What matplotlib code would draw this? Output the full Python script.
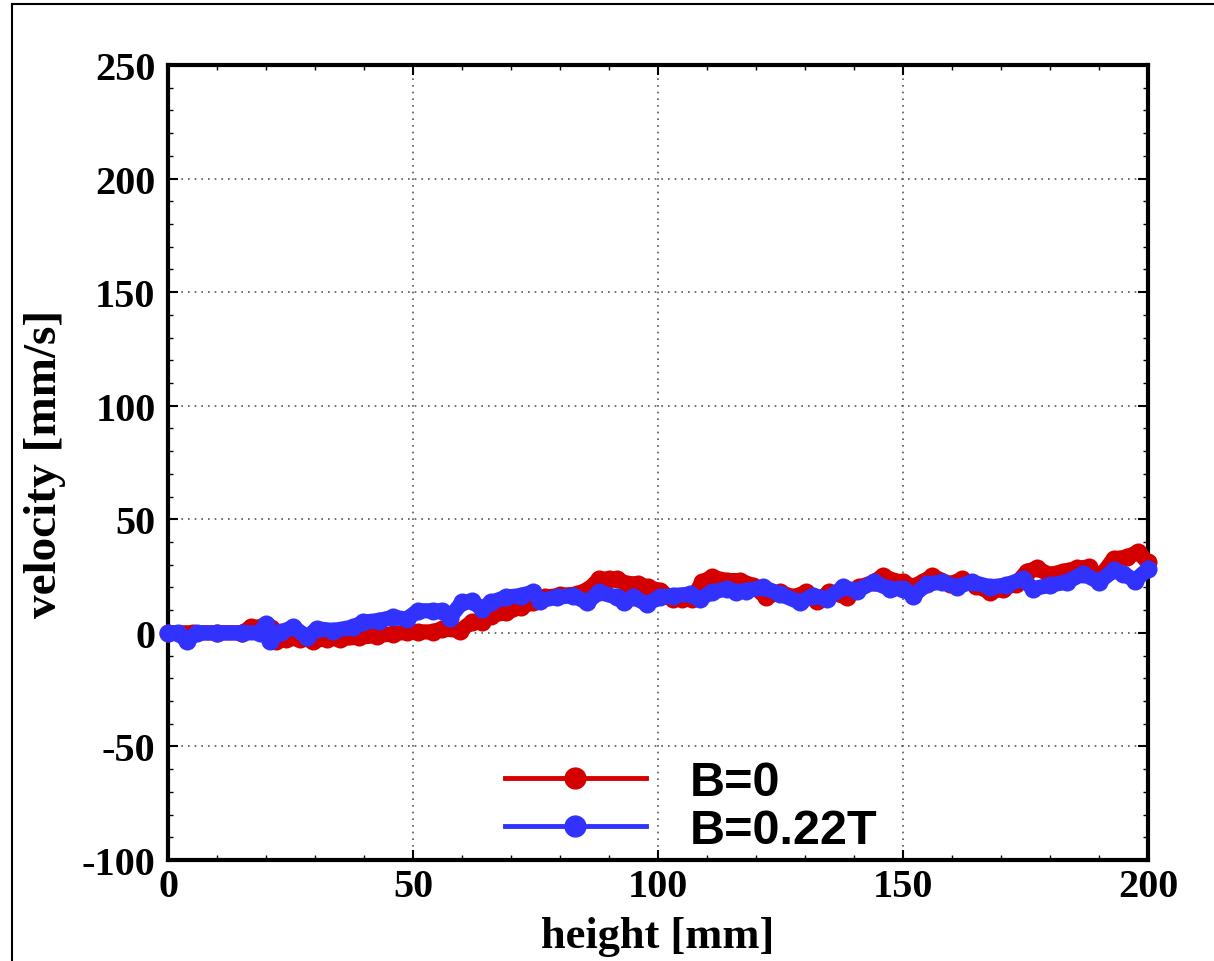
import numpy as np
import matplotlib
matplotlib.use('Agg')
import matplotlib.pyplot as plt
from matplotlib.lines import Line2D
from matplotlib.ticker import MultipleLocator, AutoMinorLocator

plt.rcParams['axes.unicode_minus'] = False

# height [mm] / velocity [mm/s]
x_b0 = [0, 5, 10, 15, 17, 19, 21, 22, 24, 27,
        29.6, 32.4, 35, 39, 42.6, 46, 48.7, 51, 54, 56,
        59.6, 62, 64, 66, 69, 72, 74.5, 77, 80, 83.4,
        86, 88, 90, 91.6, 93.6, 96, 98, 100.4, 103, 105,
        107, 109, 111, 114, 116.7, 119.4, 122, 125, 127.6, 130.3,
        132.4, 135, 138.5, 141, 144, 146, 148, 150, 152, 154,
        156, 159.6, 162, 165, 167.8, 170.4, 173, 175.3, 177.3, 180,
        182.7, 185.5, 188, 190, 193, 195.7, 198, 200]
v_b0 = [0, 0, 0, 0, 2.5, 2.5, 2, -3.4, -2.6, -2.6,
        -3.4, -2.6, -2.6, -1.9, -1.2, -0.4, 0.3, 0.4, 0.4, 1.8,
        1, 4.7, 4.7, 7.6, 9, 11.3, 13.5, 15.7, 16.5, 17,
        19.4, 23.8, 23.5, 23.8, 21.6, 21.6, 20, 18.6, 15, 15,
        15, 22.3, 24.5, 23, 23, 20.8, 15.7, 17.9, 15.7, 17.9,
        14.2, 17.9, 15.7, 20, 22.3, 25.2, 23, 22.4, 20.4, 22.4,
        25, 21.5, 23.5, 20.6, 17.9, 19.4, 21.5, 27, 28.4, 25.6,
        27, 28.4, 29, 24, 32.6, 33.3, 35.6, 31]

x_b22 = [0, 2, 3.8, 6, 10, 15, 18.8, 20, 20.8, 23,
         25.6, 28.4, 30.4, 33.7, 37.8, 39.8, 43, 46, 48.7, 51,
         54, 56, 57.5, 60, 62, 64, 66, 69, 72, 74.5,
         76, 79.4, 82.7, 85.5, 88, 91.6, 93, 95, 97.7, 100.4,
         103, 106.5, 108.6, 111, 114, 116, 118, 121.5, 125, 129,
         131.6, 134.5, 137.8, 140.6, 144, 147.3, 150, 152, 155, 158,
         161, 164, 167.8, 171, 174.5, 176.5, 180, 183.5, 186.7, 190,
         193, 195, 197.3, 200]
v_b22 = [0, 0, -3.4, 0, 0, 0, 0, 4, -3.4, 0.3,
         2.5, -1.9, 1.8, 1, 2.5, 4.7, 5.4, 6.9, 6, 9.7,
         9.7, 9.7, 6.7, 13.4, 14, 10.6, 13.4, 15.7, 16.4, 17.9,
         14.2, 15.7, 16.4, 13.4, 17.9, 15.7, 13.4, 15.7, 12.7, 15.7,
         16.4, 17, 15, 17.9, 19.4, 17.9, 18.6, 20, 17, 13.4,
         16.4, 15, 20, 18.6, 22.3, 19.4, 19.4, 16.4, 21.5, 22.4,
         20.2, 22.4, 20.2, 21, 23.8, 19.4, 21, 22.4, 26.1, 22.4,
         27.5, 26.1, 23, 28]

labels = ['B=0', 'B=0.22T']
colors = ['#d40000', '#3232ff']

serif = 'Liberation Serif'

fig = plt.figure(figsize=(12.14, 9.62), dpi=100)
ax = fig.add_axes([0.1384, 0.105, 0.8072, 0.8264])

for xs, vs, c in [(x_b0, v_b0, colors[0]), (x_b22, v_b22, colors[1])]:
    ax.plot(xs, vs, color=c, lw=11, marker='o', ms=13, mew=0,
            solid_capstyle='round', solid_joinstyle='round', clip_on=False, zorder=3)

ax.set_xlim(0, 200)
ax.set_ylim(-100, 250)
ax.xaxis.set_major_locator(MultipleLocator(50))
ax.yaxis.set_major_locator(MultipleLocator(50))
ax.xaxis.set_minor_locator(AutoMinorLocator(5))
ax.yaxis.set_minor_locator(AutoMinorLocator(5))
ax.grid(True, which='major', color='#555555', linestyle=(0, (1, 3)), linewidth=1.2)
ax.tick_params(which='both', direction='in', top=True, right=True)
ax.tick_params(which='major', length=7, width=1.5, labelsize=29, pad=6)
ax.tick_params(axis='y', which='major', pad=9)
ax.tick_params(which='minor', length=3.5, width=1)
for sp in ax.spines.values():
    sp.set_linewidth(3)
for lab in ax.get_xticklabels() + ax.get_yticklabels():
    lab.set_fontfamily(serif)
    lab.set_fontweight('bold')

ax.set_xlabel('height [mm]', fontsize=32, fontfamily=serif, fontweight='bold', labelpad=8)
ax.set_ylabel('velocity [mm/s]', fontsize=34, fontfamily=serif, fontweight='bold', labelpad=11)

handles = [Line2D([], [], color=c, lw=3.5, marker='o', ms=15) for c in colors]
ax.legend(handles, labels, loc='upper left', bbox_to_anchor=(505 / 1214, 1 - 761 / 962),
          bbox_transform=fig.transFigure, frameon=False, handlelength=2.9,
          handletextpad=0.9, labelspacing=0.06, borderpad=0, borderaxespad=0,
          prop={'family': 'Liberation Sans', 'weight': 'bold', 'size': 35})

# outer frame (top and left edges)
fig.add_artist(Line2D([12 / 1214, 1], [1 - 5 / 962, 1 - 5 / 962], color='black', lw=1.5,
                      transform=fig.transFigure))
fig.add_artist(Line2D([12 / 1214, 12 / 1214], [0, 1 - 5 / 962], color='black', lw=1.5,
                      transform=fig.transFigure))

fig.savefig('out.png', dpi=100)
